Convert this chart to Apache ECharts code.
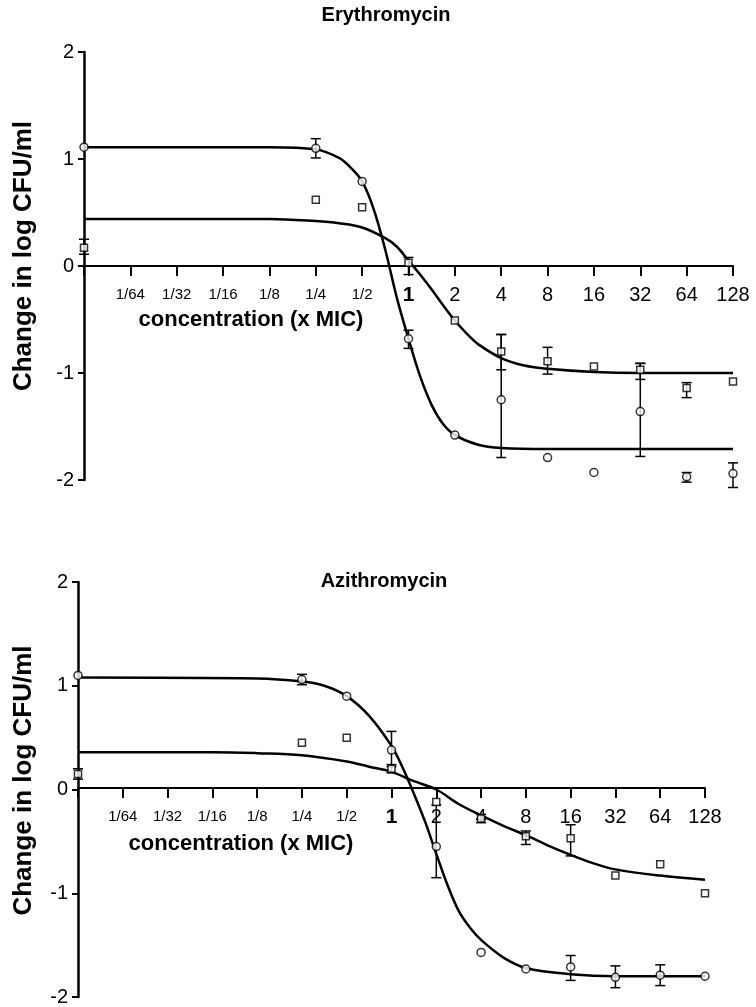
<!DOCTYPE html>
<html>
<head>
<meta charset="utf-8">
<script src="https://cdn.jsdelivr.net/npm/echarts@6/dist/echarts.min.js"></script>
<style>
  html, body { margin: 0; padding: 0; background: #fff; }
  #main { width: 756px; height: 1007px; }
</style>
</head>
<body>
<div id="main"></div>
<script>
// x is log2(concentration x MIC); the control (no drug) sits on the y axis at -7
var tickLabels = ['', '1/64', '1/32', '1/16', '1/8', '1/4', '1/2', '1', '2', '4', '8', '16', '32', '64', '128'];
var doseX = [-7, -2, -1, 0, 1, 2, 3, 4, 5, 6, 7];

// Erythromycin
var eryCircle = [1.11, 1.10, 0.79, -0.68, -1.58, -1.25, -1.79, -1.93, -1.36, -1.97, -1.94];
var erySquare = [0.17, 0.62, 0.55, 0.03, -0.51, -0.80, -0.89, -0.94, -0.97, -1.14, -1.08];
var eryCircleErr = [[-2, 1.01, 1.19], [0, -0.77, -0.60], [2, -1.79, -0.64], [5, -1.78, -0.91], [6, -2.02, -1.93], [7, -2.07, -1.84]];
var erySquareErr = [[-7, 0.11, 0.25], [0, -0.08, 0.08], [2, -0.97, -0.64], [3, -1.01, -0.76], [5, -1.06, -0.91], [6, -1.23, -1.09]];
var eryCircleFitX = [-7, -3, -2, -1.5, -1.25, -1, -0.75, -0.5, -0.25, 0, 0.25, 0.5, 0.75, 1, 1.5, 2, 3, 7];
var eryCircleFitY = [1.11, 1.11, 1.09, 1.01, 0.92, 0.79, 0.53, 0.15, -0.30, -0.68, -1.03, -1.30, -1.48, -1.58, -1.67, -1.70, -1.71, -1.71];
var erySquareFitX = [-7, -3, -2, -1.5, -1, -0.5, -0.25, 0, 0.25, 0.5, 0.75, 1, 1.25, 1.5, 2, 2.5, 3, 4, 5, 7];
var erySquareFitY = [0.44, 0.44, 0.42, 0.40, 0.36, 0.26, 0.18, 0.05, -0.08, -0.22, -0.37, -0.51, -0.63, -0.73, -0.86, -0.93, -0.96, -0.99, -1.0, -1.0];

// Azithromycin
var aziCircle = [1.10, 1.06, 0.90, 0.38, -0.55, -1.57, -1.73, -1.71, -1.81, -1.79, -1.80];
var aziSquare = [0.15, 0.45, 0.50, 0.20, -0.12, -0.28, -0.45, -0.47, -0.83, -0.72, -1.00];
var aziCircleErr = [[-2, 1.01, 1.11], [0, 0.22, 0.56], [1, -0.85, -0.15], [4, -1.84, -1.60], [5, -1.91, -1.70], [6, -1.89, -1.69]];
var aziSquareErr = [[-7, 0.10, 0.20], [0, 0.16, 0.24], [2, -0.32, -0.24], [3, -0.53, -0.40], [4, -0.64, -0.34]];
var aziCircleFitX = [-7, -3, -2, -1.5, -1, -0.5, 0, 0.25, 0.5, 0.75, 1, 1.25, 1.5, 1.75, 2, 2.5, 3, 4, 5, 7];
var aziCircleFitY = [1.08, 1.07, 1.04, 1.00, 0.90, 0.71, 0.42, 0.21, -0.04, -0.31, -0.62, -0.92, -1.17, -1.33, -1.45, -1.62, -1.72, -1.78, -1.80, -1.80];
var aziSquareFitX = [-7, -4, -3, -2, -1, -0.5, 0, 0.5, 1, 1.5, 2, 2.5, 3, 3.5, 4, 4.5, 5, 6, 7];
var aziSquareFitY = [0.36, 0.36, 0.35, 0.33, 0.27, 0.22, 0.17, 0.08, 0.0, -0.14, -0.25, -0.35, -0.44, -0.54, -0.63, -0.71, -0.77, -0.83, -0.87];

var FONT = 'Liberation Sans, Arial, sans-serif';

function pairs(xs, ys) {
  return xs.map(function (x, i) { return [x, ys[i]]; });
}

function errorBar(params, api) {
  var x = api.value(0);
  var lo = api.coord([x, api.value(1)]);
  var hi = api.coord([x, api.value(2)]);
  var cap = 5;
  var style = { stroke: '#000', lineWidth: 1.5 };
  return {
    type: 'group',
    children: [
      { type: 'line', shape: { x1: lo[0], y1: lo[1], x2: hi[0], y2: hi[1] }, style: style },
      { type: 'line', shape: { x1: lo[0] - cap, y1: lo[1], x2: lo[0] + cap, y2: lo[1] }, style: style },
      { type: 'line', shape: { x1: hi[0] - cap, y1: hi[1], x2: hi[0] + cap, y2: hi[1] }, style: style }
    ]
  };
}

function panelSeries(idx, circle, square, circleErr, squareErr, cFitX, cFitY, sFitX, sFitY) {
  var fit = {
    type: 'line', xAxisIndex: idx, yAxisIndex: idx, showSymbol: false,
    smooth: 0.35, silent: true,
    lineStyle: { color: '#000', width: 2.5 }
  };
  var err = {
    type: 'custom', xAxisIndex: idx, yAxisIndex: idx, renderItem: errorBar,
    encode: { x: 0, y: [1, 2] }, silent: true, z: 3
  };
  var pts = {
    type: 'scatter', xAxisIndex: idx, yAxisIndex: idx, z: 5, silent: true,
    itemStyle: { color: '#fff', borderColor: '#000', borderWidth: 1.5 }
  };
  return [
    Object.assign({}, fit, { data: pairs(cFitX, cFitY) }),
    Object.assign({}, fit, { data: pairs(sFitX, sFitY) }),
    Object.assign({}, err, { data: circleErr }),
    Object.assign({}, err, { data: squareErr }),
    Object.assign({}, pts, { symbol: 'circle', symbolSize: 8, data: pairs(doseX, circle) }),
    Object.assign({}, pts, { symbol: 'rect', symbolSize: 7, data: pairs(doseX, square) })
  ];
}

// the x axis is drawn across the middle of each panel (at y = 0)
function xAxisFor(idx, offset) {
  return {
    type: 'value', gridIndex: idx, min: -7, max: 7, interval: 1, offset: offset,
    axisLine: { onZero: false, lineStyle: { color: '#000', width: 2 } },
    axisTick: { show: true, length: 10, lineStyle: { color: '#000', width: 2 } },
    splitLine: { show: false },
    axisLabel: {
      margin: 19, color: '#000', fontFamily: FONT, fontSize: 20,
      formatter: function (v) {
        var s = tickLabels[Math.round(v) + 7];
        if (v < 0) return s ? '{f|' + s + '}' : '';
        if (v === 0) return '{b|' + s + '}';
        return s;
      },
      rich: {
        f: { fontSize: 15, fontFamily: FONT, color: '#000', padding: [2, 0, 0, 0] },
        b: { fontSize: 21, fontFamily: FONT, color: '#000', fontWeight: 'bold' }
      }
    }
  };
}

function yAxisFor(idx, gap, shift) {
  return {
    type: 'value', gridIndex: idx, min: -2, max: 2, interval: 1,
    name: 'Change in log CFU/ml', nameLocation: 'middle', nameGap: gap,
    nameTextStyle: { fontFamily: FONT, fontSize: 26, fontWeight: 'bold', color: '#000', padding: [0, 0, 0, shift] },
    axisLine: { onZero: false, lineStyle: { color: '#000', width: 2.5 } },
    axisTick: { show: true, length: 6, lineStyle: { color: '#000', width: 2 } },
    splitLine: { show: false },
    axisLabel: { margin: 10, color: '#000', fontFamily: FONT, fontSize: 20 }
  };
}

var myChart = echarts.init(document.getElementById('main'));

var option = {
  backgroundColor: '#fff',
  animation: false,
  title: [
    { text: 'Erythromycin', left: 386, top: 5, textAlign: 'center', padding: 0,
      textStyle: { fontFamily: FONT, fontSize: 20, fontWeight: 'bold', color: '#000' } },
    { text: 'Azithromycin', left: 384, top: 571, textAlign: 'center', padding: 0,
      textStyle: { fontFamily: FONT, fontSize: 20, fontWeight: 'bold', color: '#000' } }
  ],
  grid: [
    { left: 84, top: 52, width: 649, height: 428 },
    { left: 78, top: 582, width: 627, height: 418 }
  ],
  xAxis: [xAxisFor(0, -214), xAxisFor(1, -209)],
  yAxis: [yAxisFor(0, 47, 20), yAxisFor(1, 41, 18)],
  graphic: [
    { type: 'text', x: 251, y: 320, style: { text: 'concentration (x MIC)', fontFamily: FONT, fontSize: 22, fontWeight: 'bold', fill: '#000', align: 'center', verticalAlign: 'middle' } },
    { type: 'text', x: 241, y: 844, style: { text: 'concentration (x MIC)', fontFamily: FONT, fontSize: 22, fontWeight: 'bold', fill: '#000', align: 'center', verticalAlign: 'middle' } }
  ],
  series: [].concat(
    panelSeries(0, eryCircle, erySquare, eryCircleErr, erySquareErr, eryCircleFitX, eryCircleFitY, erySquareFitX, erySquareFitY),
    panelSeries(1, aziCircle, aziSquare, aziCircleErr, aziSquareErr, aziCircleFitX, aziCircleFitY, aziSquareFitX, aziSquareFitY)
  )
};

myChart.setOption(option);
</script>
</body>
</html>
